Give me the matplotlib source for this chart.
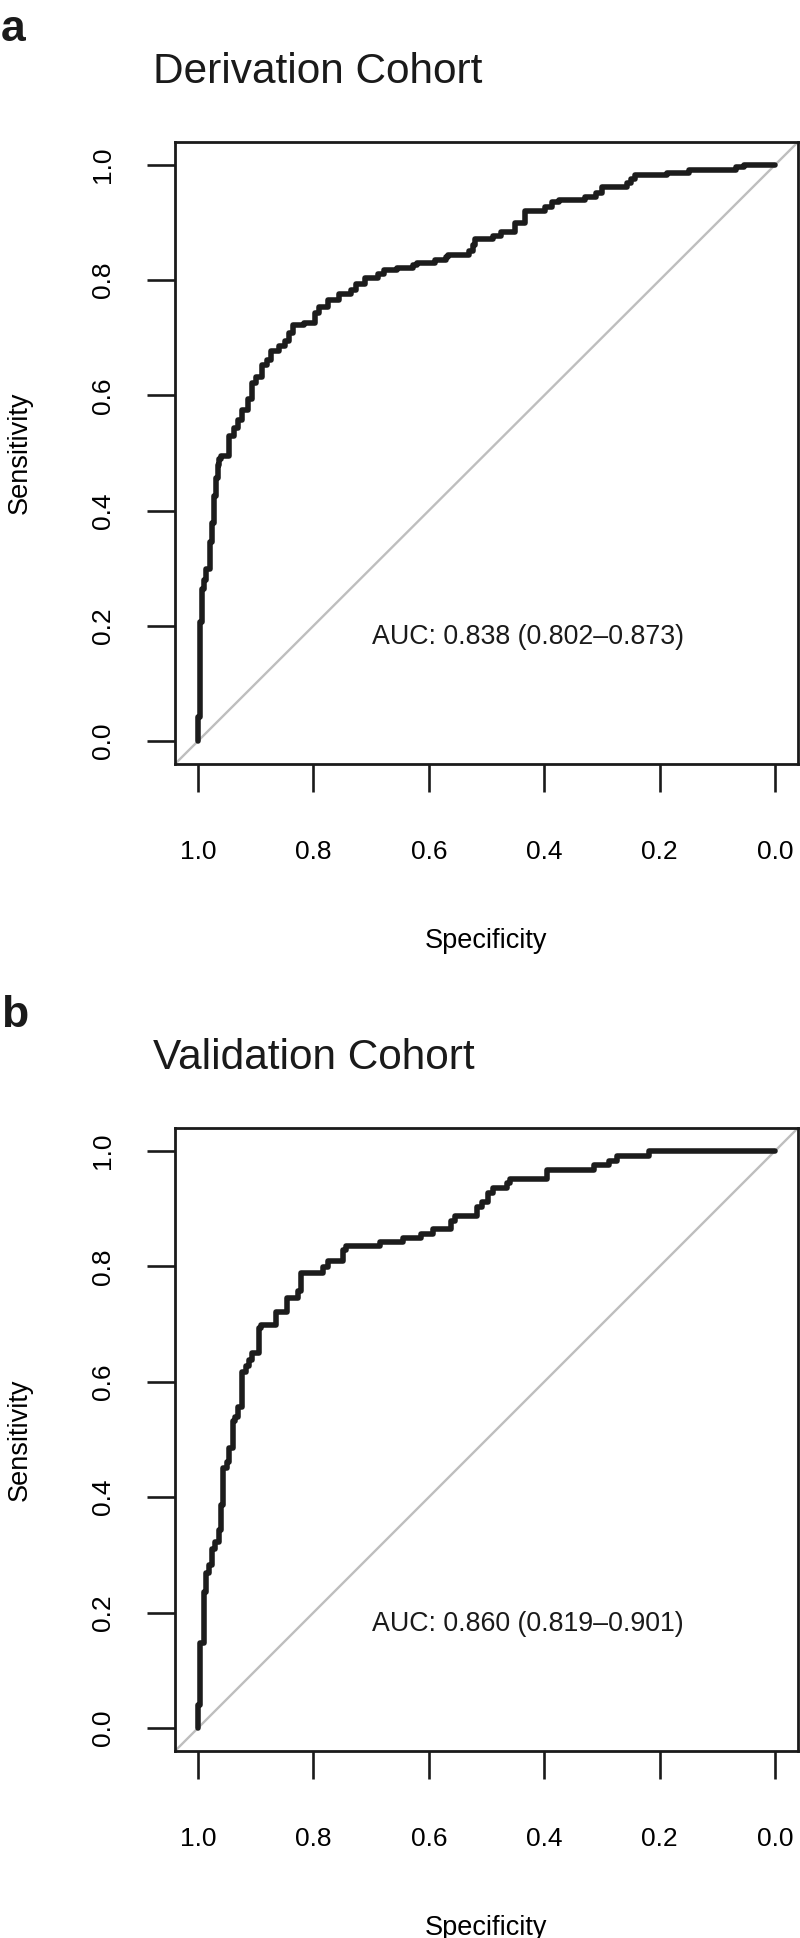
import numpy as np
import matplotlib.pyplot as plt

plt.rcParams['font.family'] = ['Liberation Sans', 'DejaVu Sans']

# ROC curve vertices (specificity, sensitivity)
spec_a = [1.000, 1.000, 0.997, 0.994, 0.990, 0.986, 0.980, 0.976, 0.972, 0.969,
          0.966, 0.964, 0.961, 0.947, 0.937, 0.930, 0.924, 0.914, 0.906, 0.900,
          0.889, 0.881, 0.874, 0.860, 0.849, 0.842, 0.835, 0.817, 0.798, 0.790,
          0.775, 0.755, 0.735, 0.726, 0.711, 0.688, 0.677, 0.656, 0.627, 0.620,
          0.590, 0.570, 0.566, 0.530, 0.524, 0.520, 0.488, 0.474, 0.450, 0.433,
          0.398, 0.387, 0.375, 0.329, 0.311, 0.300, 0.256, 0.249, 0.242, 0.187,
          0.149, 0.068, 0.053, 0.000]
sens_a = [0.000, 0.042, 0.207, 0.264, 0.280, 0.298, 0.345, 0.379, 0.426, 0.456,
          0.480, 0.490, 0.494, 0.530, 0.544, 0.558, 0.574, 0.594, 0.621, 0.632,
          0.652, 0.662, 0.677, 0.685, 0.695, 0.709, 0.723, 0.726, 0.743, 0.753,
          0.766, 0.776, 0.783, 0.794, 0.803, 0.810, 0.817, 0.822, 0.827, 0.830,
          0.835, 0.840, 0.844, 0.850, 0.862, 0.871, 0.877, 0.884, 0.899, 0.920,
          0.927, 0.935, 0.940, 0.945, 0.951, 0.961, 0.968, 0.976, 0.983, 0.987,
          0.991, 0.996, 1.000, 1.000]

spec_b = [1.000, 1.000, 0.997, 0.990, 0.986, 0.981, 0.976, 0.970, 0.964, 0.960,
          0.957, 0.949, 0.946, 0.940, 0.936, 0.930, 0.923, 0.917, 0.911, 0.906,
          0.895, 0.891, 0.865, 0.845, 0.827, 0.821, 0.784, 0.775, 0.748, 0.743,
          0.685, 0.645, 0.613, 0.593, 0.562, 0.555, 0.517, 0.508, 0.497, 0.488,
          0.465, 0.459, 0.395, 0.314, 0.288, 0.274, 0.219, 0.000]
sens_b = [0.000, 0.040, 0.148, 0.235, 0.269, 0.283, 0.310, 0.323, 0.343, 0.387,
          0.451, 0.461, 0.485, 0.532, 0.539, 0.556, 0.617, 0.627, 0.637, 0.650,
          0.694, 0.698, 0.721, 0.745, 0.758, 0.789, 0.799, 0.809, 0.829, 0.835,
          0.842, 0.849, 0.856, 0.865, 0.879, 0.888, 0.903, 0.911, 0.927, 0.936,
          0.944, 0.952, 0.967, 0.975, 0.982, 0.991, 1.000, 1.000]

panels = ['a', 'b']
titles = ['Derivation Cohort', 'Validation Cohort']
auc_labels = ['AUC: 0.838 (0.802\u20130.873)', 'AUC: 0.860 (0.819\u20130.901)']
ticks = [0.0, 0.2, 0.4, 0.6, 0.8, 1.0]

W, H = 800, 1938
fig = plt.figure(figsize=(W / 100, H / 100), dpi=100)

# pixel boxes of the two plot regions: (left, top, right, bottom)
boxes = [(175, 142, 798, 764), (175, 1128, 798, 1751)]
curves = [(spec_a, sens_a), (spec_b, sens_b)]

for k in range(2):
    l, t, r, b = boxes[k]
    ax = fig.add_axes([l / W, 1 - b / H, (r - l) / W, (b - t) / H])
    spec, sens = curves[k]

    ax.axline((1, 0), (0, 1), color='#bebebe', lw=1.7, zorder=1)
    ax.plot(spec, sens, drawstyle='steps-post', color='#1c1c1c', lw=4.0,
            solid_capstyle='round', zorder=2)

    ax.set_xlim(1.04, -0.04)
    ax.set_ylim(-0.04, 1.04)
    ax.set_xticks(ticks)
    ax.set_yticks(ticks)
    ax.set_xticklabels(['%.1f' % v for v in ticks])
    ax.set_yticklabels(['%.1f' % v for v in ticks])
    ax.tick_params(direction='out', length=20.5, width=1.9, labelsize=19,
                   color='#1a1a1a')
    ax.tick_params(axis='x', pad=34)
    ax.tick_params(axis='y', pad=23, labelrotation=90)
    for lab in ax.get_yticklabels():
        lab.set_va('center')
    for s in ax.spines.values():
        s.set_linewidth(2.0)
        s.set_color('#1a1a1a')

    ax.text(0.4287, 0.181, auc_labels[k], fontsize=19.3, ha='center', va='center',
            color='#1a1a1a')

    ax.set_xlabel('Specificity', fontsize=19.5)
    ax.xaxis.label.set_va('center')
    ax.xaxis.set_label_coords(0.5, -(174 + 3) / (b - t))
    ax.set_ylabel('Sensitivity', fontsize=19.5)
    ax.yaxis.label.set_va('center')
    ax.yaxis.set_label_coords(-(175 - 20) / (r - l), 0.5)

    fig.text(153 / W, 1 - (t - 59) / H, titles[k], fontsize=30.5,
             ha='left', va='baseline', color='#1a1a1a')
    fig.text(1 / W, 1 - (t - 101) / H, panels[k], fontsize=32,
             fontweight='bold', ha='left', va='baseline', color='#1a1a1a')

plt.savefig('out.png', dpi=100)
